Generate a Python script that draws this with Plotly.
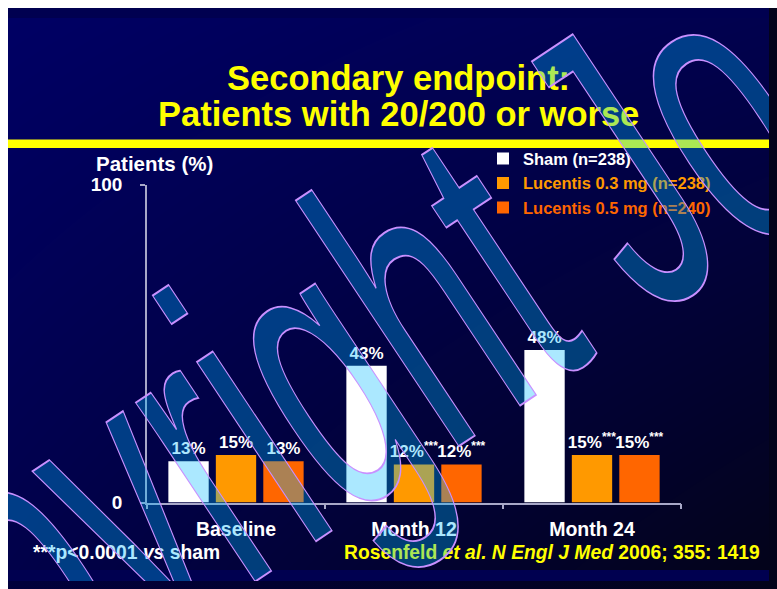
import plotly.graph_objects as go

# ---------------- data ----------------
categories = ["Baseline", "Month 12", "Month 24"]
series_names = ["Sham (n=238)", "Lucentis 0.3 mg (n=238)", "Lucentis 0.5 mg (n=240)"]
sham = [13, 43, 48]
lucentis_03 = [15, 12, 15]
lucentis_05 = [13, 12, 15]
sig_sham = ["", "", ""]
sig_03 = ["", "***", "***"]
sig_05 = ["", "***", "***"]
y_ticks = [0, 100]

# figure sits inside the page's 8px body margin so the page is exactly 777x589
W, H = 761, 573
OFF = 8
colors = ["#FFFFFF", "#FF9900", "#FF6600"]
FONT = "Liberation Sans, Arial, sans-serif"


def px_x(p):          # screen px -> paper x
    return (p - OFF) / W


def px_y(p):          # screen px -> paper y
    return 1 - (p - OFF) / H


fig = go.Figure()

# background gradient of the slide
fig.add_trace(go.Heatmap(
    x=[0, 1], y=[0, 1], z=[[0.35, 1.0], [0.0, 0.3]],
    zsmooth="best", showscale=False, hoverinfo="skip",
    colorscale=[[0, "#000064"], [1, "#03031A"]], zmin=0, zmax=1,
    xaxis="x", yaxis="y",
))

series = [(series_names[0], sham, sig_sham, colors[0]),
          (series_names[1], lucentis_03, sig_03, colors[1]),
          (series_names[2], lucentis_05, sig_05, colors[2])]

for i, (name, vals, sig, col) in enumerate(series):
    labels = [f"{v}%" + (f"<sup>{s}</sup>" if s else "") for v, s in zip(vals, sig)]
    legend_name = name if i == 0 else f"<span style='color:{col}'>{name}</span>"
    fig.add_trace(go.Bar(
        x=categories, y=vals, name=legend_name,
        marker=dict(color=col, line=dict(width=0)),
        text=labels, textposition="outside", cliponaxis=False,
        constraintext="none",
        textfont=dict(family=FONT, size=17, color="white", weight="bold"),
        xaxis="x2", yaxis="y2",
    ))

axis_col = "#A8A8C8"
fig.update_layout(
    width=W, height=H,
    margin=dict(l=0, r=0, t=0, b=0),
    paper_bgcolor="#000050", plot_bgcolor="rgba(0,0,0,0)",
    barmode="group", bargap=0.2, bargroupgap=0.15,
    showlegend=True,
    legend=dict(x=px_x(483), y=px_y(136), xanchor="left", yanchor="top",
                bgcolor="rgba(0,0,0,0)", tracegroupgap=0,
                font=dict(family=FONT, size=16.5, color="white", weight="bold")),
    xaxis=dict(domain=[0, 1], range=[0, 1], visible=False, fixedrange=True),
    yaxis=dict(domain=[0, 1], range=[0, 1], visible=False, fixedrange=True),
    xaxis2=dict(domain=[px_x(147), px_x(681)], anchor="y2", type="category",
                categoryorder="array", categoryarray=categories,
                showline=True, linecolor=axis_col, linewidth=1.5,
                ticks="outside", ticklen=5, tickcolor=axis_col, tickwidth=1.5,
                tickson="boundaries", showgrid=False, ticklabelstandoff=8,
                tickfont=dict(family=FONT, size=19.5, color="white", weight="bold")),
    yaxis2=dict(domain=[px_y(511), px_y(181)], anchor="x2", range=[0, 100],
                tickvals=y_ticks, ticktext=[str(v) for v in y_ticks],
                showline=True, linecolor=axis_col, linewidth=1.5,
                ticks="outside", ticklen=5, tickcolor=axis_col, tickwidth=1.5,
                showgrid=False, zeroline=False, ticklabelstandoff=14,
                tickfont=dict(family=FONT, size=19, color="white", weight="bold")),
)

# yellow rule under the title
fig.add_shape(type="rect", xref="paper", yref="paper",
              x0=0, x1=1, y0=px_y(143), y1=px_y(134),
              fillcolor="#FFFF00", line=dict(width=0))

# title (two lines)
fig.add_annotation(text="<b>Secondary endpoint:</b>",
                   xref="paper", yref="paper", x=px_x(398), y=px_y(70),
                   xanchor="center", yanchor="middle", showarrow=False,
                   font=dict(family=FONT, size=34.5, color="#FFFF00"))
fig.add_annotation(text="<b>Patients with 20/200 or worse</b>",
                   xref="paper", yref="paper", x=px_x(398), y=px_y(108),
                   xanchor="center", yanchor="middle", showarrow=False,
                   font=dict(family=FONT, size=34.5, color="#FFFF00"))
# y-axis title
fig.add_annotation(text="<b>Patients (%)</b>", xref="paper", yref="paper",
                   x=px_x(94), y=px_y(159), xanchor="left", yanchor="middle",
                   showarrow=False, font=dict(family=FONT, size=20.5, color="white"))
# footnotes
fig.add_annotation(text="<b>***p<0.0001 <i>vs</i> sham</b>", xref="paper", yref="paper",
                   x=px_x(31), y=px_y(563), xanchor="left", yanchor="middle",
                   showarrow=False, font=dict(family=FONT, size=19.3, color="white"))
fig.add_annotation(text="<b>Rosenfeld <i>et al. N Engl J Med</i> 2006; 355: 1419</b>",
                   xref="paper", yref="paper",
                   x=px_x(762), y=px_y(563), xanchor="right", yanchor="middle",
                   showarrow=False, font=dict(family=FONT, size=19.3, color="#FFFF00"))

# watermark overlay
fig.add_annotation(text="Copyright Jo", xref="paper", yref="paper",
                   x=px_x(251), y=px_y(421), xanchor="center", yanchor="middle",
                   showarrow=False, textangle=-33.6,
                   font=dict(family="Liberation Sans, Arial", size=220,
                             color="rgba(0,186,255,0.33)"))

post = """
(function(){
  document.documentElement.style.overflow = 'hidden';
  document.body.style.background =
    'linear-gradient(to bottom, #ffffff 0px, #ffffff 8px, rgba(0,0,0,0) 8px),' +
    'linear-gradient(to right, #ffffff 0px, #ffffff 8px, rgba(0,0,0,0) 8px),' +
    'linear-gradient(to right, #00003C, #03031A)';
  function ol(){
    var gd = document.getElementById('{plot_id}');
    if(!gd) return;
    gd.querySelectorAll('.annotation-text').forEach(function(t){
      if(t.textContent.indexOf('Copyright') === 0){
        t.style.stroke = '#C890FF';
        t.style.strokeWidth = '1.6px';
        t.style.vectorEffect = 'non-scaling-stroke';
        t.style.transformBox = 'fill-box';
        t.style.transformOrigin = 'center';
        t.style.transform = 'scaleY(1.85)';
      }
    });
  }
  ol(); setTimeout(ol, 30); setTimeout(ol, 300);
  var gd = document.getElementById('{plot_id}');
  if(gd && gd.on){ gd.on('plotly_afterplot', ol); }
})();
"""

fig.write_html("out.html", post_script=post, config={"displayModeBar": False})
